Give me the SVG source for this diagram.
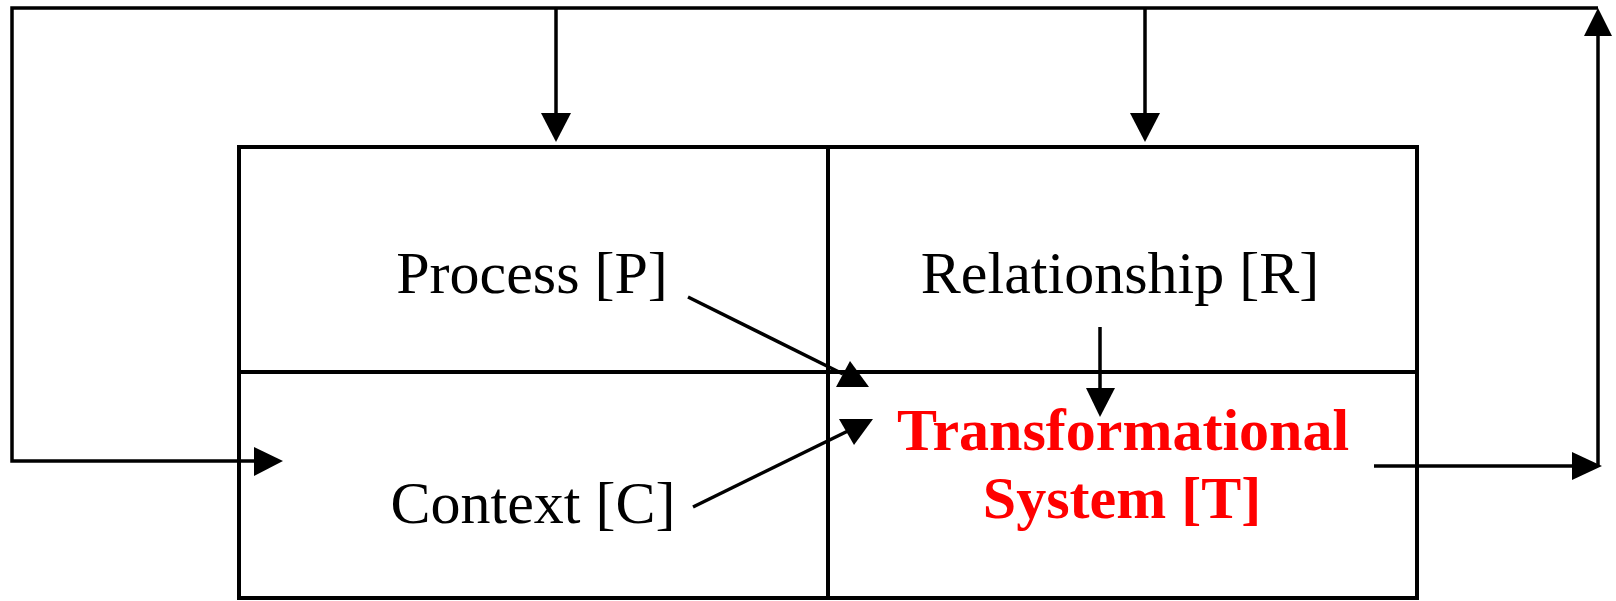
<svg xmlns="http://www.w3.org/2000/svg" width="1616" height="601" viewBox="0 0 1616 601">
<style>
.ln{stroke:#000;stroke-width:3.5;fill:none}
.bx{stroke:#000;stroke-width:4;fill:none}
.hd{fill:#000;stroke:none}
.t{font-family:"Liberation Serif","Times New Roman",serif;font-size:60px;fill:#000;text-anchor:middle}
.r{fill:#ff0000;font-weight:bold}
</style>
<rect width="1616" height="601" fill="#fff"/>
<g id="frame">
<rect class="bx" x="239" y="147" width="1178" height="451"/>
<line class="bx" x1="828" y1="147" x2="828" y2="598"/>
<line class="bx" x1="239" y1="372" x2="1417" y2="372"/>
</g>
<g id="process"><text class="t" x="532" y="293">Process [P]</text></g>
<g id="relationship"><text class="t" x="1120" y="293">Relationship [R]</text></g>
<g id="context"><text class="t" x="533" y="523">Context [C]</text></g>
<g id="transformational"><text class="t r" x="1123" y="450">Transformational</text><text class="t r" x="1122" y="518">System [T]</text></g>
<g id="connectors">
<polyline class="ln" points="255,461 12,461 12,8 1598,8"/>
<polygon class="hd" points="254,447 283,461 254,476"/>
<line class="ln" x1="556" y1="8" x2="556" y2="114"/>
<polygon class="hd" points="541,113 571,113 556,142"/>
<line class="ln" x1="1145" y1="8" x2="1145" y2="114"/>
<polygon class="hd" points="1130,113 1160,113 1145,142"/>
<line class="ln" x1="1374" y1="466" x2="1574" y2="466"/>
<polygon class="hd" points="1572,452 1602,466 1572,480"/>
<line class="ln" x1="1598" y1="466" x2="1598" y2="34"/>
<polygon class="hd" points="1584,36 1598,8 1612,36"/>
<line class="ln" x1="1100" y1="327" x2="1100" y2="390"/>
<polygon class="hd" points="1086,388 1115,388 1100,417"/>
<line class="ln" x1="688" y1="297" x2="843" y2="374"/>
<polygon class="hd" points="850,361 869,387 836,387"/>
<line class="ln" x1="693" y1="507" x2="852" y2="429"/>
<polygon class="hd" points="839,419 873,419 854,445"/>
</g>
</svg>
